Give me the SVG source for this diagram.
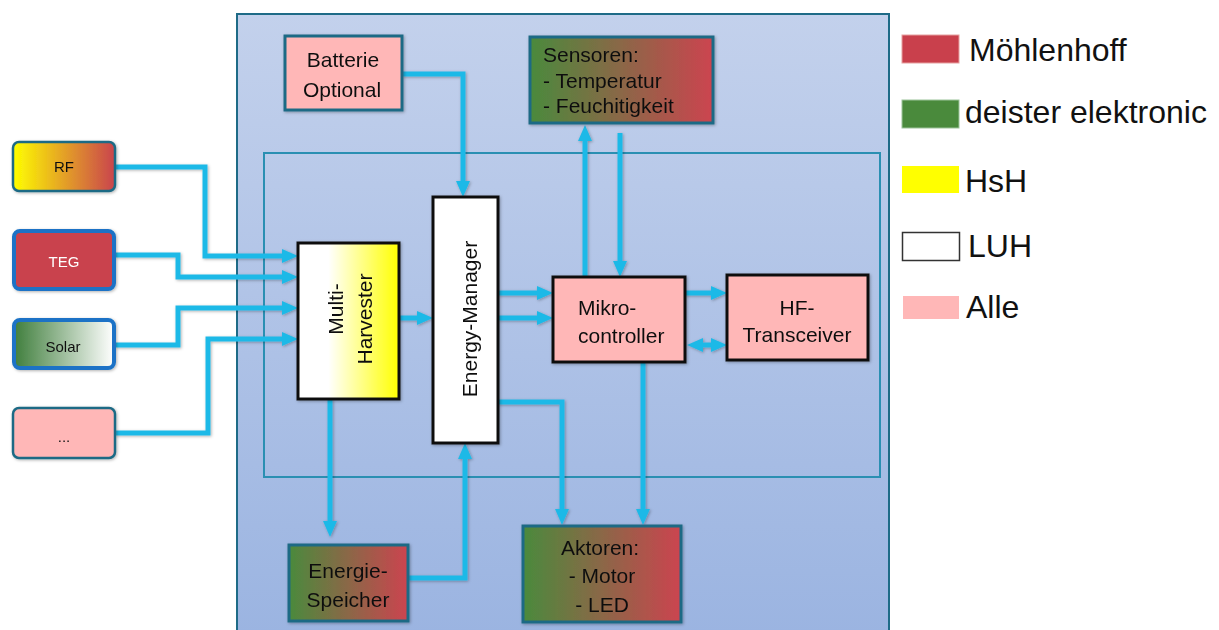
<svg xmlns="http://www.w3.org/2000/svg" width="1219" height="630" viewBox="0 0 1219 630">
<style>
text{font-family:"Liberation Sans",Arial,sans-serif;fill:#111;}
.t{font-size:21px;}
.s{font-size:15px;}
.lg{font-size:32px;}
.teal{stroke:#1f6b85;stroke-width:3;}
.blk{stroke:#111;stroke-width:3;}
.c{fill:none;stroke:#1fb9e7;stroke-width:5;}
</style>
<defs>
<linearGradient id="gr" x1="0" x2="1" y1="0" y2="0"><stop offset="0" stop-color="#4a8a3d"/><stop offset="1" stop-color="#cc4450"/></linearGradient>
<linearGradient id="rf" x1="0" x2="1" y1="0" y2="0"><stop offset="0" stop-color="#ffff00"/><stop offset="1" stop-color="#c9434d"/></linearGradient>
<linearGradient id="sol" x1="0" x2="1" y1="0" y2="0"><stop offset="0" stop-color="#3f7e3c"/><stop offset="1" stop-color="#ffffff"/></linearGradient>
<linearGradient id="hv" x1="0" x2="1" y1="0" y2="0"><stop offset="0" stop-color="#ffffff"/><stop offset="0.3" stop-color="#ffffff"/><stop offset="1" stop-color="#ffff00"/></linearGradient>
<linearGradient id="bg" x1="0" x2="0" y1="0" y2="1"><stop offset="0" stop-color="#c3d1ec"/><stop offset="1" stop-color="#9bb4e1"/></linearGradient>
<filter id="sh" x="-20%" y="-20%" width="140%" height="140%"><feDropShadow dx="1" dy="1" stdDeviation="1.5" flood-color="#000" flood-opacity="0.3"/></filter>
<marker id="ah" viewBox="0 0 16 14" refX="2" refY="7" markerWidth="16" markerHeight="14" markerUnits="userSpaceOnUse" orient="auto-start-reverse"><path d="M0,0 L16,7 L0,14 z" fill="#1fb9e7"/></marker>
</defs>

<g id="system">
<rect x="237" y="14" width="652" height="620" fill="url(#bg)" stroke="#1e6b87" stroke-width="2"/>
<rect x="264" y="153" width="616" height="324" fill="none" stroke="#2a8fb2" stroke-width="2"/>
</g>

<g id="connectors" filter="url(#sh)">
<path class="c" d="M115,167 H205 V256 H284" marker-end="url(#ah)"/>
<path class="c" d="M115,255 H178 V277 H284" marker-end="url(#ah)"/>
<path class="c" d="M115,345 H178 V308 H284" marker-end="url(#ah)"/>
<path class="c" d="M115,433 H208 V339 H284" marker-end="url(#ah)"/>
<path class="c" d="M399,318 H419" marker-end="url(#ah)"/>
<path class="c" d="M498,293 H539" marker-end="url(#ah)"/>
<path class="c" d="M498,318 H539" marker-end="url(#ah)"/>
<path class="c" d="M685,293 H713" marker-end="url(#ah)"/>
<path class="c" d="M701,345 H713" marker-start="url(#ah)" marker-end="url(#ah)"/>
<path class="c" d="M585,277 V139" marker-end="url(#ah)"/>
<path class="c" d="M620,133 V263" marker-end="url(#ah)"/>
<path class="c" d="M402,74 H463 V183" marker-end="url(#ah)"/>
<path class="c" d="M330,399 V523" marker-end="url(#ah)"/>
<path class="c" d="M408,578 H465 V457" marker-end="url(#ah)"/>
<path class="c" d="M498,402 H562 V511" marker-end="url(#ah)"/>
<path class="c" d="M643,362 V511" marker-end="url(#ah)"/>
</g>

<g id="rf-node" filter="url(#sh)">
<rect x="13" y="142" width="102" height="49" rx="6" fill="url(#rf)" stroke="#1f6b85" stroke-width="2.5"/>
<text class="s" x="64" y="172" text-anchor="middle">RF</text>
</g>
<g id="teg-node" filter="url(#sh)">
<rect x="14" y="231" width="100" height="58" rx="6" fill="#c9434d" stroke="#1a72c6" stroke-width="4"/>
<text class="s" x="64" y="267" text-anchor="middle" style="fill:#fff">TEG</text>
</g>
<g id="solar-node" filter="url(#sh)">
<rect x="14" y="320" width="100" height="48" rx="6" fill="url(#sol)" stroke="#1a72c6" stroke-width="4"/>
<text class="s" x="63" y="352" text-anchor="middle">Solar</text>
</g>
<g id="more-node" filter="url(#sh)">
<rect x="13" y="408" width="102" height="50" rx="6" fill="#ffb7b7" stroke="#1f6b85" stroke-width="2.5"/>
<text class="s" x="64" y="442" text-anchor="middle">...</text>
</g>

<g id="batterie" filter="url(#sh)">
<rect x="285" y="36" width="117" height="74" fill="#ffb7b7" class="teal"/>
<text class="t" x="343" y="67" text-anchor="middle">Batterie</text>
<text class="t" x="342" y="97" text-anchor="middle">Optional</text>
</g>

<g id="sensoren" filter="url(#sh)">
<rect x="530" y="37" width="183" height="86" fill="url(#gr)" class="teal"/>
<text class="t" x="543" y="62">Sensoren:</text>
<text class="t" x="543" y="88">- Temperatur</text>
<text class="t" x="543" y="113">- Feuchitigkeit</text>
</g>

<g id="harvester" filter="url(#sh)">
<rect x="298" y="243" width="101" height="156" fill="url(#hv)" class="blk"/>
<text class="t" transform="translate(343,309) rotate(-90)" text-anchor="middle">Multi-</text>
<text class="t" transform="translate(372,319) rotate(-90)" text-anchor="middle">Harvester</text>
</g>

<g id="energy-manager" filter="url(#sh)">
<rect x="433" y="197" width="65" height="246" fill="#fff" class="blk"/>
<text class="t" transform="translate(477,319) rotate(-90)" text-anchor="middle">Energy-Manager</text>
</g>

<g id="mikrocontroller" filter="url(#sh)">
<rect x="553" y="277" width="132" height="85" fill="#ffb7b7" class="blk"/>
<text class="t" x="578" y="315">Mikro-</text>
<text class="t" x="578" y="343">controller</text>
</g>

<g id="hf-transceiver" filter="url(#sh)">
<rect x="727" y="275" width="141" height="85" fill="#ffb7b7" class="blk"/>
<text class="t" x="797" y="315" text-anchor="middle">HF-</text>
<text class="t" x="797" y="342" text-anchor="middle">Transceiver</text>
</g>

<g id="energiespeicher" filter="url(#sh)">
<rect x="289" y="545" width="119" height="76" fill="url(#gr)" class="teal"/>
<text class="t" x="348" y="578" text-anchor="middle">Energie-</text>
<text class="t" x="348" y="607" text-anchor="middle">Speicher</text>
</g>

<g id="aktoren" filter="url(#sh)">
<rect x="523" y="526" width="158" height="96" fill="url(#gr)" class="teal"/>
<text class="t" x="600" y="555" text-anchor="middle">Aktoren:</text>
<text class="t" x="602" y="583" text-anchor="middle">- Motor</text>
<text class="t" x="602" y="612" text-anchor="middle">- LED</text>
</g>

<g id="legend">
<rect x="902" y="35" width="57" height="28" fill="#c9404c" stroke="#e6a0a0" stroke-width="1"/>
<text class="lg" x="969" y="61">Möhlenhoff</text>
<rect x="902" y="100" width="57" height="28" fill="#4a8a3c" stroke="#9cc39a" stroke-width="1"/>
<text class="lg" x="965" y="123">deister elektronic</text>
<rect x="902" y="166" width="57" height="27" fill="#ffff00"/>
<text class="lg" x="965" y="192">HsH</text>
<rect x="902.5" y="232.5" width="57" height="28" fill="#fff" stroke="#333" stroke-width="1.5"/>
<text class="lg" x="968" y="257">LUH</text>
<rect x="903" y="296" width="56" height="23" fill="#ffb7b7"/>
<text class="lg" x="966" y="318">Alle</text>
</g>
</svg>
